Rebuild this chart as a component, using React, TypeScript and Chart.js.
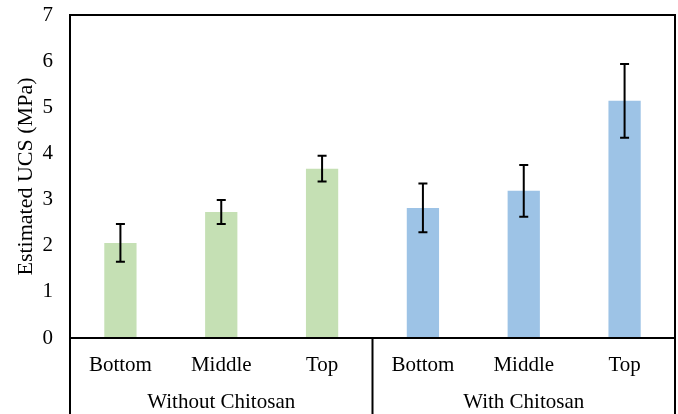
import React, { useEffect, useRef } from "react";
import { Chart, registerables } from "chart.js";

Chart.register(...registerables);

const categories = ["Bottom", "Middle", "Top", "Bottom", "Middle", "Top"];
const groups = ["Without Chitosan", "With Chitosan"];
const values = [2.06, 2.73, 3.67, 2.82, 3.19, 5.14];
const errors = [0.41, 0.26, 0.28, 0.53, 0.56, 0.80];
const barColors = ["#C5E0B4", "#C5E0B4", "#C5E0B4", "#9DC3E6", "#9DC3E6", "#9DC3E6"];
const yTicks = [0, 1, 2, 3, 4, 5, 6, 7];

const FONT = "'Liberation Serif', 'Times New Roman', serif";

const errorBarPlugin = {
  id: "errorBars",
  afterDatasetsDraw(chart: any) {
    const ctx = chart.ctx;
    const meta = chart.getDatasetMeta(0);
    const yScale = chart.scales.y;
    ctx.save();
    ctx.strokeStyle = "#000";
    ctx.lineWidth = 2;
    meta.data.forEach((el: any, i: number) => {
      const x = el.x;
      const yT = yScale.getPixelForValue(values[i] + errors[i]);
      const yB = yScale.getPixelForValue(values[i] - errors[i]);
      ctx.beginPath();
      ctx.moveTo(x, yT);
      ctx.lineTo(x, yB);
      ctx.moveTo(x - 4.5, yT);
      ctx.lineTo(x + 4.5, yT);
      ctx.moveTo(x - 4.5, yB);
      ctx.lineTo(x + 4.5, yB);
      ctx.stroke();
    });
    ctx.restore();
  },
};

const framePlugin = {
  id: "frame",
  afterDraw(chart: any) {
    const ctx = chart.ctx;
    const a = chart.chartArea;
    const xs = chart.scales.x;
    const H = chart.height;
    const sep = (xs.getPixelForValue(2) + xs.getPixelForValue(3)) / 2;
    ctx.save();
    ctx.strokeStyle = "#000";
    ctx.lineWidth = 2;
    ctx.beginPath();
    ctx.moveTo(a.left, H);
    ctx.lineTo(a.left, a.top);
    ctx.lineTo(a.right, a.top);
    ctx.lineTo(a.right, H);
    ctx.moveTo(a.left, a.bottom);
    ctx.lineTo(a.right, a.bottom);
    ctx.moveTo(sep, a.bottom);
    ctx.lineTo(sep, H);
    ctx.stroke();
    ctx.restore();
  },
};

export default function App() {
  const ref = useRef<HTMLCanvasElement>(null);
  useEffect(() => {
    if (!ref.current) return;
    const chart = new Chart(ref.current, {
      type: "bar",
      data: {
        labels: categories,
        datasets: [
          {
            data: values,
            backgroundColor: barColors,
            barPercentage: 0.32,
            categoryPercentage: 1,
          },
        ],
      },
      options: {
        animation: false,
        responsive: false,
        maintainAspectRatio: false,
        layout: { padding: { left: 0, right: 3, top: 15, bottom: 0 } },
        plugins: { legend: { display: false }, tooltip: { enabled: false } },
        scales: {
          x: {
            type: "category",
            labels: categories,
            grid: { display: false, drawTicks: false },
            border: { display: false },
            ticks: { color: "#000", font: { family: FONT, size: 21 }, padding: 15, maxRotation: 0, autoSkip: false },
            afterFit: (s: any) => { s.height = 42; s.paddingLeft = 0; s.paddingRight = 0; },
          },
          x2: {
            type: "category",
            labels: groups,
            position: "bottom",
            offset: true,
            grid: { display: false, drawTicks: false },
            border: { display: false },
            ticks: { color: "#000", font: { family: FONT, size: 21 }, padding: 10, maxRotation: 0 },
            afterFit: (s: any) => { s.height = 34; s.paddingLeft = 0; s.paddingRight = 0; },
          },
          y: {
            min: 0,
            max: 7,
            afterBuildTicks: (s: any) => { s.ticks = yTicks.map((v) => ({ value: v })); },
            grid: { display: false, drawTicks: false },
            border: { display: false },
            ticks: { color: "#000", font: { family: FONT, size: 21 }, padding: 17 },
            title: {
              display: true,
              text: "Estimated UCS (MPa)",
              color: "#000",
              font: { family: FONT, size: 22 },
              padding: { top: 13, bottom: 0 },
            },
            afterFit: (s: any) => { s.width = 70; s.paddingTop = 0; s.paddingBottom = 0; },
          },
        },
      },
      plugins: [errorBarPlugin, framePlugin],
    });
    return () => chart.destroy();
  }, []);
  return (
    <div style={{ position: "fixed", left: 0, top: 0, width: 678, height: 414, background: "#fff" }}>
      <canvas ref={ref} width={678} height={414} style={{ width: 678, height: 414 }} />
    </div>
  );
}
